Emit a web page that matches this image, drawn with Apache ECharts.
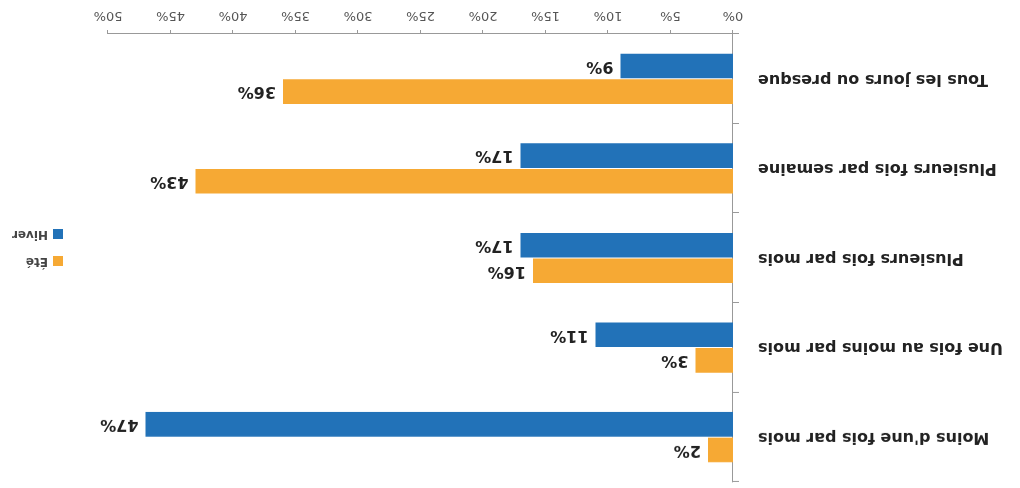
<!DOCTYPE html>
<html><head><meta charset="utf-8">
<script src="https://cdn.jsdelivr.net/npm/echarts@6/dist/echarts.min.js"></script>
<style>html,body{margin:0;padding:0;background:#fff}#c{width:1020px;height:488px;transform:rotate(180deg)}</style>
</head><body><div id="c"></div>
<script>
const categories = ['Tous les jours ou presque', 'Plusieurs fois par semaine', 'Plusieurs fois par mois', 'Une fois au moins par mois', "Moins d'une fois par mois"];
const hiver = [9, 17, 17, 11, 47];
const ete = [36, 43, 16, 3, 2];
const ticks = [0, 5, 10, 15, 20, 25, 30, 35, 40, 45, 50];

const chart = echarts.init(document.getElementById('c'), null, {renderer: 'canvas'});
const F = 'DejaVu Sans';
const lbl = {show: true, position: 'right', distance: 7, formatter: '{c}%', fontSize: 16, fontWeight: 'bold', color: '#222', fontFamily: F};
chart.setOption({
  animation: false,
  textStyle: {fontFamily: F},
  legend: {
    orient: 'vertical', left: 952, top: 216, itemWidth: 10, itemHeight: 10, itemGap: 15,
    icon: 'rect', data: ['Été', 'Hiver'],
    textStyle: {fontFamily: F, fontSize: 12, fontWeight: 'bold', color: '#444'}
  },
  grid: {left: 287, right: 108, top: 6, bottom: 34, containLabel: false},
  xAxis: {
    type: 'value', min: ticks[0], max: ticks[ticks.length - 1], interval: 5,
    splitLine: {show: false},
    axisLine: {show: true, lineStyle: {color: '#999'}},
    axisTick: {show: true, length: 4, lineStyle: {color: '#999'}},
    axisLabel: {formatter: '{value}%', fontSize: 13, color: '#555', margin: 12, fontFamily: F}
  },
  yAxis: {
    type: 'category', data: categories,
    axisLine: {show: true, lineStyle: {color: '#999'}},
    axisTick: {show: true, length: 6, lineStyle: {color: '#999'}},
    axisLabel: {fontSize: 16, fontWeight: 'bold', color: '#222', margin: 25, fontFamily: F}
  },
  series: [
    {name: 'Été', type: 'bar', data: ete, barGap: '4%', barCategoryGap: '44%',
     itemStyle: {color: '#f6a934'}, label: lbl},
    {name: 'Hiver', type: 'bar', data: hiver, barGap: '4%', barCategoryGap: '44%',
     itemStyle: {color: '#2272b8'}, label: lbl}
  ]
});
</script></body></html>
